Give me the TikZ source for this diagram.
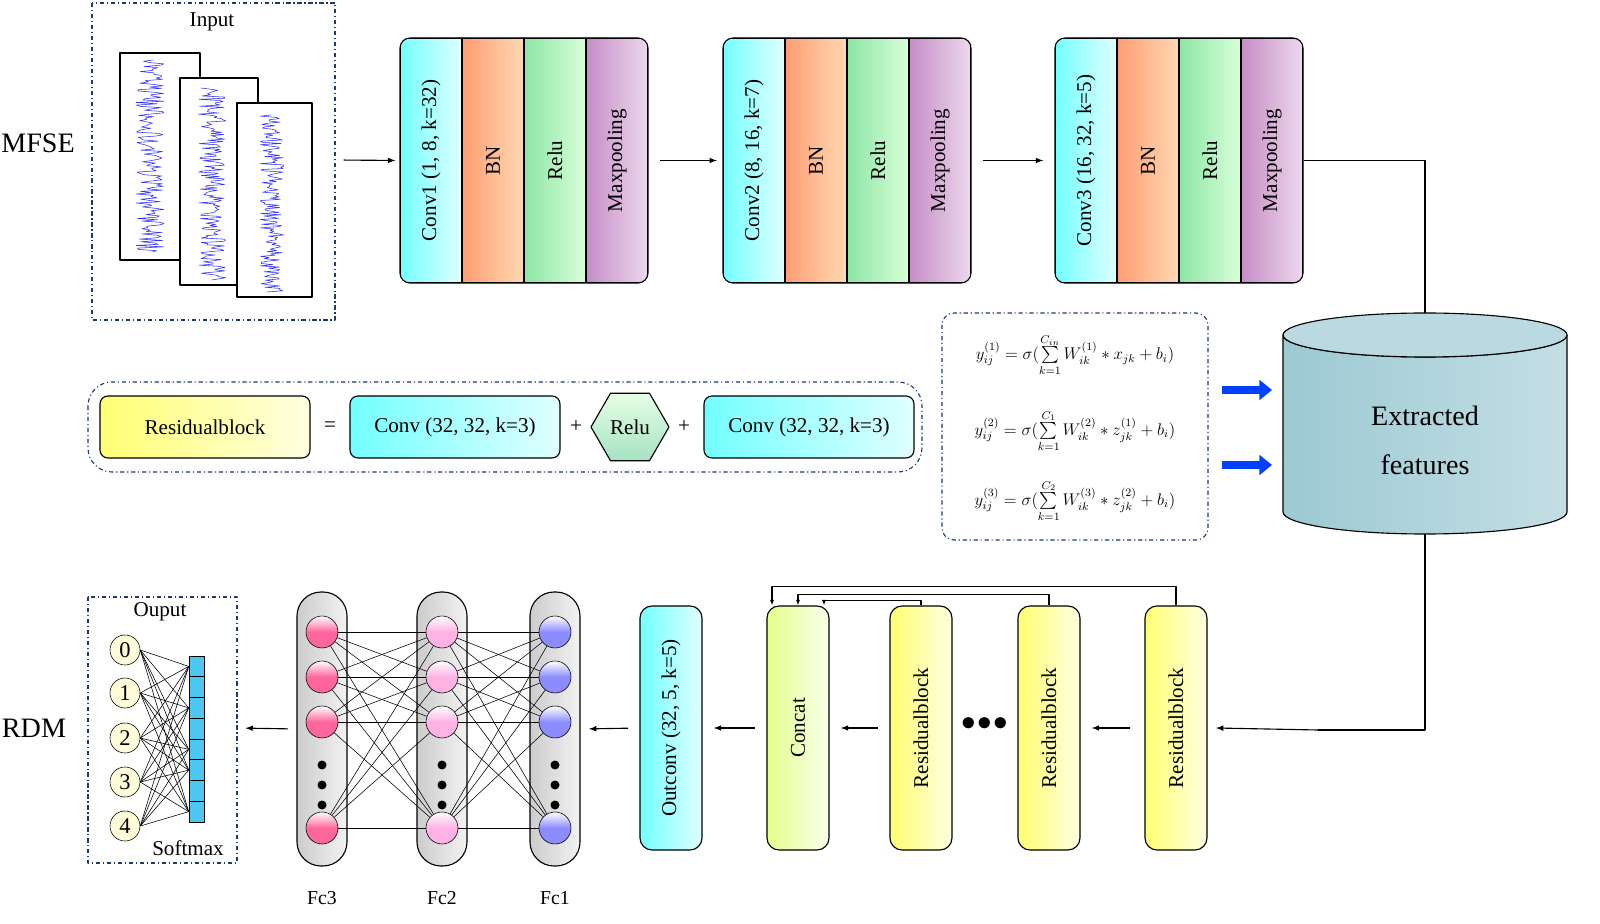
\documentclass[tikz,border=0pt]{standalone}
\usepackage{amsmath}
\usepackage{fontspec}
\setmainfont{Liberation Serif}
\usetikzlibrary{shapes.geometric,calc,arrows.meta}

\newcommand\px{0.025cm}
\definecolor{navy}{HTML}{1F3A6E}
\definecolor{featcol}{HTML}{9CC9D3}
\tikzset{
  frame/.style={draw=navy, thick, dash dot, rounded corners=0.3cm},
  arr/.style={thick, -latex},
  stripe/.style={minimum width=245*\px, minimum height=62*\px, inner sep=0, draw, thick,
    rotate=90, font=\fontsize{15}{17}\selectfont},
  cyanbox/.style={left color=cyan!55!white, right color=cyan!12!white},
  orangebox/.style={left color=orange!60!red!55!white, right color=orange!30!white},
  greenbox/.style={left color=green!55!teal!45!white, right color=green!15!white},
  purplebox/.style={left color=violet!45!white, right color=violet!15!white},
  yellowbox/.style={left color=yellow!55!white, right color=yellow!12!white},
  limebox/.style={left color=lime!45!white, right color=lime!8!white},
  tallbox/.style={draw, thick, rounded corners=0.3cm, minimum width=62*\px, minimum height=244*\px,
    inner sep=0, font=\fontsize{15}{17}\selectfont},
  flatbox/.style={draw, thick, rounded corners=0.2cm, minimum width=210*\px, minimum height=62*\px,
    font=\fontsize{15}{17}\selectfont},
  neuron/.style={circle, draw, minimum size=32*\px, inner sep=0},
  digit/.style={circle, draw, fill=yellow!15!white, minimum size=30*\px, inner sep=0,
    font=\fontsize{16}{18}\selectfont},
}

% one Conv-BN-Relu-Maxpooling block
\newcommand\convblock[3]{%
  \begin{scope}
    \clip[rounded corners=0.25cm] (#2,38) rectangle ++(248,245);
    \node[stripe, cyanbox, shading angle=90]   (#1a) at (#2+31,160.5)  {#3};
    \node[stripe, orangebox, shading angle=90] (#1b) at (#2+93,160.5)  {BN};
    \node[stripe, greenbox, shading angle=90]  (#1c) at (#2+155,160.5) {Relu};
    \node[stripe, purplebox, shading angle=90] (#1d) at (#2+217,160.5) {Maxpooling};
  \end{scope}
  \draw[thick, rounded corners=0.25cm] (#2,38) rectangle ++(248,245);
}

\begin{document}
\begin{tikzpicture}[x=\px, y=-\px, line join=round]

% Labels
\node[font=\fontsize{20}{22}\selectfont] (mfse) at (38,143) {MFSE};
\node[font=\fontsize{20}{22}\selectfont] (rdm) at (34,728) {RDM};

% Input
\draw[frame, rounded corners=0] (92,3) rectangle (335,320);
\node[font=\fontsize{15}{17}\selectfont] (inlbl) at (212,22) {Input};
\pgfmathsetseed{7}
\draw[thick, fill=white] (120,53) rectangle (200,260);
\draw[blue!80, thin] plot[variable=\t, domain=60:252, samples=150] ({150+14*rand}, \t);
\draw[thick, fill=white] (180,78) rectangle (258,285);
\draw[blue!80, thin] plot[variable=\t, domain=88:280, samples=170] ({212+14*rand}, \t);
\draw[thick, fill=white] (237,103) rectangle (312,297);
\node[inner sep=0, minimum size=2pt] (inbox) at (335,160) {};
\draw[blue!80, thin] plot[variable=\t, domain=115:292, samples=150] ({272+12*rand}, \t);

% MFSE blocks
\convblock{ca}{400}{Conv1 (1, 8, k=32)}
\convblock{cb}{723}{Conv2 (8, 16, k=7)}
\convblock{cc}{1055}{Conv3 (16, 32, k=5)}
\draw[arr, shorten <=5pt, shorten >=3pt] (inbox.east) -- (caa.north);
\draw[arr, shorten <=8pt, shorten >=4pt] (cad.south) -- (cba.north);
\draw[arr, shorten <=8pt, shorten >=8pt] (cbd.south) -- (cca.north);

% Extracted features
\path[left color=featcol, right color=featcol!60!white, draw, thick] (1283,335) -- (1283,512)
  arc[start angle=180, end angle=0, x radius=142, y radius=22] -- (1567,335)
  arc[start angle=0, end angle=180, x radius=142, y radius=22] -- cycle;
\draw[thick, fill=featcol!70!white] (1425,335) ellipse[x radius=142, y radius=22];
\node[font=\fontsize{20}{22}\selectfont, align=center] (feat) at (1425,440)
  {Extracted\\[0.45cm]features};
\coordinate (cyltop) at (1425,313);
\coordinate (cylbot) at (1425,534);
\draw[thick] (ccd.south) -| (cyltop);

% Formulas
\draw[frame] (942,313) rectangle (1208,540);
\node[font=\fontsize{12}{14}\selectfont] (eq1) at (1075,355)
  {$y_{ij}^{(1)}=\sigma(\sum\limits_{k=1}^{C_{in}}W_{ik}^{(1)}*x_{jk}+b_i)$};
\node[font=\fontsize{12}{14}\selectfont] (eq2) at (1075,431)
  {$y_{ij}^{(2)}=\sigma(\sum\limits_{k=1}^{C_{1}}W_{ik}^{(2)}*z_{jk}^{(1)}+b_i)$};
\node[font=\fontsize{12}{14}\selectfont] (eq3) at (1075,501)
  {$y_{ij}^{(3)}=\sigma(\sum\limits_{k=1}^{C_{2}}W_{ik}^{(3)}*z_{jk}^{(2)}+b_i)$};
\coordinate (ba1) at (1222,390); \coordinate (bb1) at (1272,390);
\coordinate (ba2) at (1222,465); \coordinate (bb2) at (1272,465);
\draw[blue!75!cyan, line width=5pt, -{Triangle[length=9pt, width=14pt]}] (ba1) -- (bb1);
\draw[blue!75!cyan, line width=5pt, -{Triangle[length=9pt, width=14pt]}] (ba2) -- (bb2);

% Residual block definition
\draw[frame, rounded corners=0.6cm] (88,382) rectangle (922,472);
\node[flatbox, yellowbox] (rdef) at (205,427) {Residualblock};
\node[font=\fontsize{15}{17}\selectfont] (eqs) at (330,427) {=};
\node[flatbox, cyanbox] (rc1) at (455,427) {Conv (32, 32, k=3)};
\node[font=\fontsize{15}{17}\selectfont] (pl1) at (576,427) {+};
\node[regular polygon, regular polygon sides=6, draw, thick, minimum size=78*\px, inner sep=0,
  top color=green!10!white, bottom color=green!35!teal!35!white,
  font=\fontsize{15}{17}\selectfont] (rrelu) at (630,427) {Relu};
\node[font=\fontsize{15}{17}\selectfont] (pl2) at (684,427) {+};
\node[flatbox, cyanbox] (rc2) at (809,427) {Conv (32, 32, k=3)};

% RDM chain
\node[tallbox, yellowbox] (rb3) at (1176,728) {\rotatebox{90}{Residualblock}};
\node[tallbox, yellowbox] (rb2) at (1049,728) {\rotatebox{90}{Residualblock}};
\node[tallbox, yellowbox] (rb1) at (921,728) {\rotatebox{90}{Residualblock}};
\node[font=\fontsize{22}{24}\selectfont] (dots) at (985,724) {$\bullet\!\bullet\!\bullet$};
\node[tallbox, limebox] (cat) at (798,728) {\rotatebox{90}{Concat}};
\node[tallbox, cyanbox] (oc) at (671,728) {\rotatebox{90}{Outconv (32, 5, k=5)}};
\draw[thick] (cylbot) |- (1318,730) coordinate (rin);
\draw[arr] (rin) -- ([xshift=6pt]rb3.east);
\draw[arr, shorten <=10pt, shorten >=8pt] (rb3.west) -- (rb2.east);
\draw[arr, shorten <=8pt, shorten >=8pt] (rb1.west) -- (cat.east);
\draw[arr, shorten <=8pt, shorten >=8pt] (cat.west) -- (oc.east);
\draw[thick, -{Latex[length=4pt]}] (rb3.north) -- ++(0,-19) -| ([xshift=-26*\px]cat.north);
\draw[thick, -{Latex[length=4pt]}] (rb2.north) -- ++(0,-11) -| (cat.north);
\draw[thick, -{Latex[length=4pt]}] (rb1.north) -- ++(0,-5) -| ([xshift=26*\px]cat.north);

% Fully connected layers
\foreach \n/\x/\c in {3/322/{red!65!magenta!60!white}, 2/442/{red!35!magenta!30!white}, 1/555/{blue!45!white}} {
  \node[draw, thick, rounded corners=0.6cm, minimum width=50*\px, minimum height=274*\px,
    left color=gray!40, right color=gray!10, inner sep=0] (fc\n) at (\x,729) {};
  \node[font=\fontsize{14}{16}\selectfont] (fcl\n) at (\x,898) {Fc\n};
  \foreach \k/\y in {a/632, b/677, c/722, d/828}
    \node[neuron, top color=white, bottom color=\c, middle color=\c] (f\n\k) at (\x,\y) {};
  \foreach \y in {765, 785, 805}
    \fill (\x,\y) circle (4.5*\px);
}
\foreach \a in {a,b,c,d} {
  \foreach \b in {a,b,c,d} {
    \draw (f3\a) -- (f2\b);
    \draw (f2\a) -- (f1\b);
  }
}
\draw[arr, shorten <=8pt, shorten >=6pt] (oc.west) -- (fc1.east);

% Output
\draw[frame, rounded corners=0] (88,597) rectangle (237,863);
\node[font=\fontsize{15}{17}\selectfont] (outlbl) at (160,612) {Ouput};
\node[font=\fontsize{15}{17}\selectfont] (smlbl) at (188,848) {Softmax};
\foreach \d/\y in {0/650, 1/693, 2/738, 3/782, 4/826}
  \node[digit] (d\d) at (125,\y) {\d};
\foreach \i in {0,...,7}
  \node[draw, fill=cyan!70!white, minimum width=15*\px, minimum height=20.75*\px, inner sep=0]
    (sm\i) at (196.5,666.4+20.75*\i) {};
\foreach \d in {0,...,4}
  \foreach \s in {0,2,4,5,7}
    \draw (d\d.east) -- (sm\s.west);
\draw[arr, shorten <=6pt, shorten >=6pt] (fc3.west) -- (237,728) coordinate (outin);

\pgfresetboundingbox
\useasboundingbox (0,0) rectangle (1600,924);
\end{tikzpicture}
\end{document}
